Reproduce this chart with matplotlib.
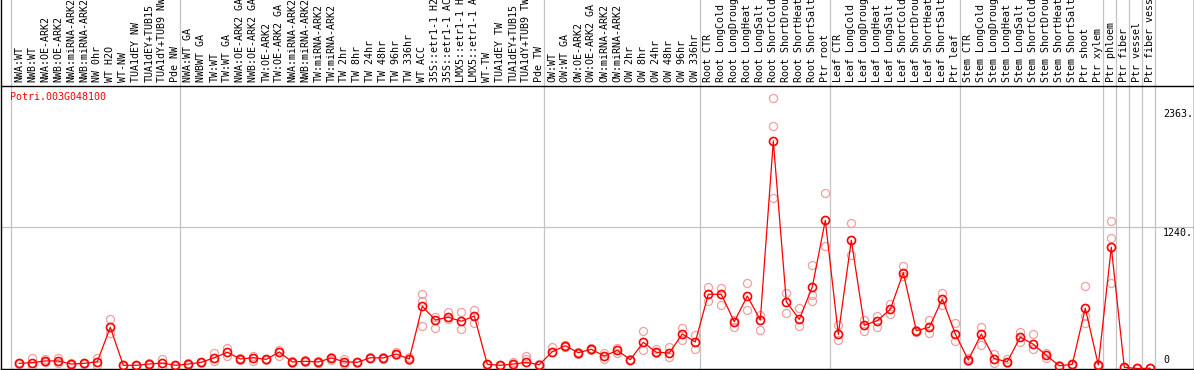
import numpy as np
import matplotlib
matplotlib.use("Agg")
import matplotlib.pyplot as plt
from matplotlib.lines import Line2D

# sample names (one column each)
labels = [
    "NWA:WT", "NWB:WT", "NWA:OE-ARK2", "NWB:OE-ARK2", "NWA:miRNA-ARK2", "NWB:miRNA-ARK2",
    "NW 0hr", "WT H2O", "WT-NW", "TUA1dEY NW", "TUA1dEY+TUB15", "TUA1dY+TUB9 NW", "Pde NW",
    "NWA:WT GA", "NWBWT GA", "TW:WT", "TW:WT GA", "NWA:OE-ARK2 GA", "NWB:OE-ARK2 GA",
    "TW:OE-ARK2", "TW:OE-ARK2 GA", "NWA:miRNA-ARK2", "NWB:miRNA-ARK2", "TW:miRNA-ARK2",
    "TW:miRNA-ARK2", "TW 2hr", "TW 8hr", "TW 24hr", "TW 48hr", "TW 96hr", "TW 336hr", "WT ACC",
    "35S::etr1-1 H2O", "35S::etr1-1 ACC", "LMX5::etr1-1 H2O", "LMX5::etr1-1 ACC", "WT-TW",
    "TUA1dEY TW", "TUA1dEY+TUB15", "TUA1dY+TUB9 TW", "Pde TW",
    "OW:WT", "OW:WT GA", "OW:OE-ARK2", "OW:OE-ARK2 GA", "OW:miRNA-ARK2", "OW:miRNA-ARK2",
    "OW 2hr", "OW 8hr", "OW 24hr", "OW 48hr", "OW 96hr", "OW 336hr",
    "Root CTR", "Root LongCold", "Root LongDrought", "Root LongHeat", "Root LongSalt",
    "Root ShortCold", "Root ShortDrought", "Root ShortHeat", "Root ShortSalt", "Ptr root",
    "Leaf CTR", "Leaf LongCold", "Leaf LongDrought", "Leaf LongHeat", "Leaf LongSalt",
    "Leaf ShortCold", "Leaf ShortDrought", "Leaf ShortHeat", "Leaf ShortSalt", "Ptr leaf",
    "Stem CTR", "Stem LongCold", "Stem LongDrought", "Stem LongHeat", "Stem LongSalt",
    "Stem ShortCold", "Stem ShortDrought", "Stem ShortHeat", "Stem ShortSalt", "Ptr shoot",
    "Ptr xylem", "Ptr phloem", "Ptr fiber", "Ptr vessel", "Ptr fiber vessel",
]

# first column of each group (last entry = end)
group_starts = [0, 13, 41, 53, 63, 73, 84, 85, 86, 87, 88]

# mean expression
main_vals = [
    45, 51, 66, 66, 39, 45, 59, 360, 28, 28,
    39, 48, 28, 39, 54, 94, 142, 83, 94, 80,
    144, 57, 63, 57, 92, 59, 54, 94, 92, 127,
    83, 544, 424, 448, 413, 459, 37, 28, 39, 54,
    33, 147, 199, 138, 168, 109, 159, 77, 229, 142,
    136, 302, 232, 649, 649, 409, 634, 424, 1989, 584,
    430, 713, 1296, 299, 1121, 378, 418, 518, 838, 331,
    360, 608, 302, 74, 302, 86, 59, 275, 212, 115,
    24, 37, 526, 31, 1060, 10, 0, 2,
]

# replicates
rep_hi = [
    50, 94, 83, 94, 45, 50, 94, 430, 33, 33,
    45, 80, 33, 45, 60, 133, 179, 88, 112, 85,
    162, 62, 70, 62, 98, 80, 60, 100, 98, 147,
    103, 649, 453, 497, 497, 509, 42, 33, 54, 109,
    38, 185, 205, 145, 175, 133, 177, 83, 328, 168,
    191, 357, 293, 715, 701, 420, 750, 468, 2363, 658,
    532, 905, 1532, 380, 1270, 424, 459, 561, 896, 340,
    424, 658, 401, 89, 360, 127, 80, 322, 299, 138,
    30, 42, 721, 36, 1290, 15, 3, 6,
]
rep_lo = [
    40, 22, 57, 45, 34, 40, 31, 313, 24, 24,
    34, 16, 24, 34, 48, 68, 109, 78, 68, 75,
    109, 52, 57, 52, 74, 39, 48, 88, 86, 120,
    78, 374, 352, 430, 343, 400, 32, 24, 34, 80,
    28, 140, 192, 130, 160, 80, 133, 70, 162, 136,
    103, 249, 173, 590, 555, 366, 512, 337, 1488, 483,
    372, 643, 1071, 249, 993, 328, 366, 474, 809, 317,
    308, 553, 243, 68, 206, 51, 52, 234, 168, 89,
    18, 32, 395, 26, 745, 5, 0, 0,
]
extra_idx = [31, 58, 61, 82, 84]
extra_vals = [593, 2118, 593, 459, 1139]

gene = "Potri.003G048100"

W, H = 1194, 370
MONO = "DejaVu Sans Mono"
RED = "#ff0000"
PINK = "#f0a0a0"
GREY = "#c4c4c4"


def px_rect(l, t, r, b):
    return [l / W, 1 - b / H, (r - l) / W, (b - t) / H]


fig = plt.figure(figsize=(W / 100, H / 100), dpi=100)
ax = fig.add_axes(px_rect(1, 85.7, 1193.5, 369))

x = np.arange(len(labels))
ax.set_xlim((1 - 19.3) / 13, (1193.5 - 19.3) / 13)
ax.set_ylim(-4.4, 2473)
ax.set_xticks([])
ax.set_yticks([])
for s in ["left", "right"]:
    ax.spines[s].set_visible(False)
for s in ["top", "bottom"]:
    ax.spines[s].set_linewidth(1.0)

# grid: group separators run through the header too
seps = [g - 8 / 13 for g in group_starts]
ax.vlines(seps, 0, 1.31, transform=ax.get_xaxis_transform(), colors=GREY,
          lw=0.9, clip_on=False, zorder=1)
ax.axhline(1240, color=GREY, lw=0.9, zorder=1)

# outer left/right border
fig.add_artist(Line2D([0.5 / W, 0.5 / W], [1 - 369 / H, 1], color="black", lw=1.0))
fig.add_artist(Line2D([1193.5 / W] * 2, [1 - 369 / H, 1], color="black", lw=1.0))

ms = 5.8
# replicates
for reps in (rep_hi, rep_lo):
    ax.plot(x, reps, ls="none", marker="o", ms=ms, mfc="none", mec=PINK, mew=0.9, zorder=2)
ax.plot(extra_idx, extra_vals, ls="none", marker="o", ms=ms, mfc="none", mec=PINK,
        mew=0.9, zorder=2)

# mean line
ax.plot(x, main_vals, color=RED, lw=0.9, marker="o", ms=ms, mfc="none", mec=RED,
        mew=1.2, zorder=3)

# column labels
ylab = (369 - 82) / (369 - 85.7)
for i, lab in enumerate(labels):
    ax.text(i, ylab, lab, transform=ax.get_xaxis_transform(), rotation=90,
            ha="center", va="bottom", family=MONO, fontsize=7.2, clip_on=False)

# y labels on the right
xr = (1163 - 1) / 1192.5
ax.annotate("2363.", xy=(xr, 2363), xycoords=ax.get_yaxis_transform(), xytext=(0, -7.5),
            textcoords="offset points", va="top", ha="left", family=MONO, fontsize=7.2)
ax.annotate("1240.", xy=(xr, 1240), xycoords=ax.get_yaxis_transform(), xytext=(0, -1),
            textcoords="offset points", va="top", ha="left", family=MONO, fontsize=7.2)
ax.annotate("0", xy=(xr, 0), xycoords=ax.get_yaxis_transform(), xytext=(0, 2.5),
            textcoords="offset points", va="bottom", ha="left", family=MONO, fontsize=7.2)

fig.text(10 / W, 1 - 97 / H, gene, color=RED, family=MONO, fontsize=7.2,
         ha="left", va="center")

fig.savefig("out.png", dpi=100)
